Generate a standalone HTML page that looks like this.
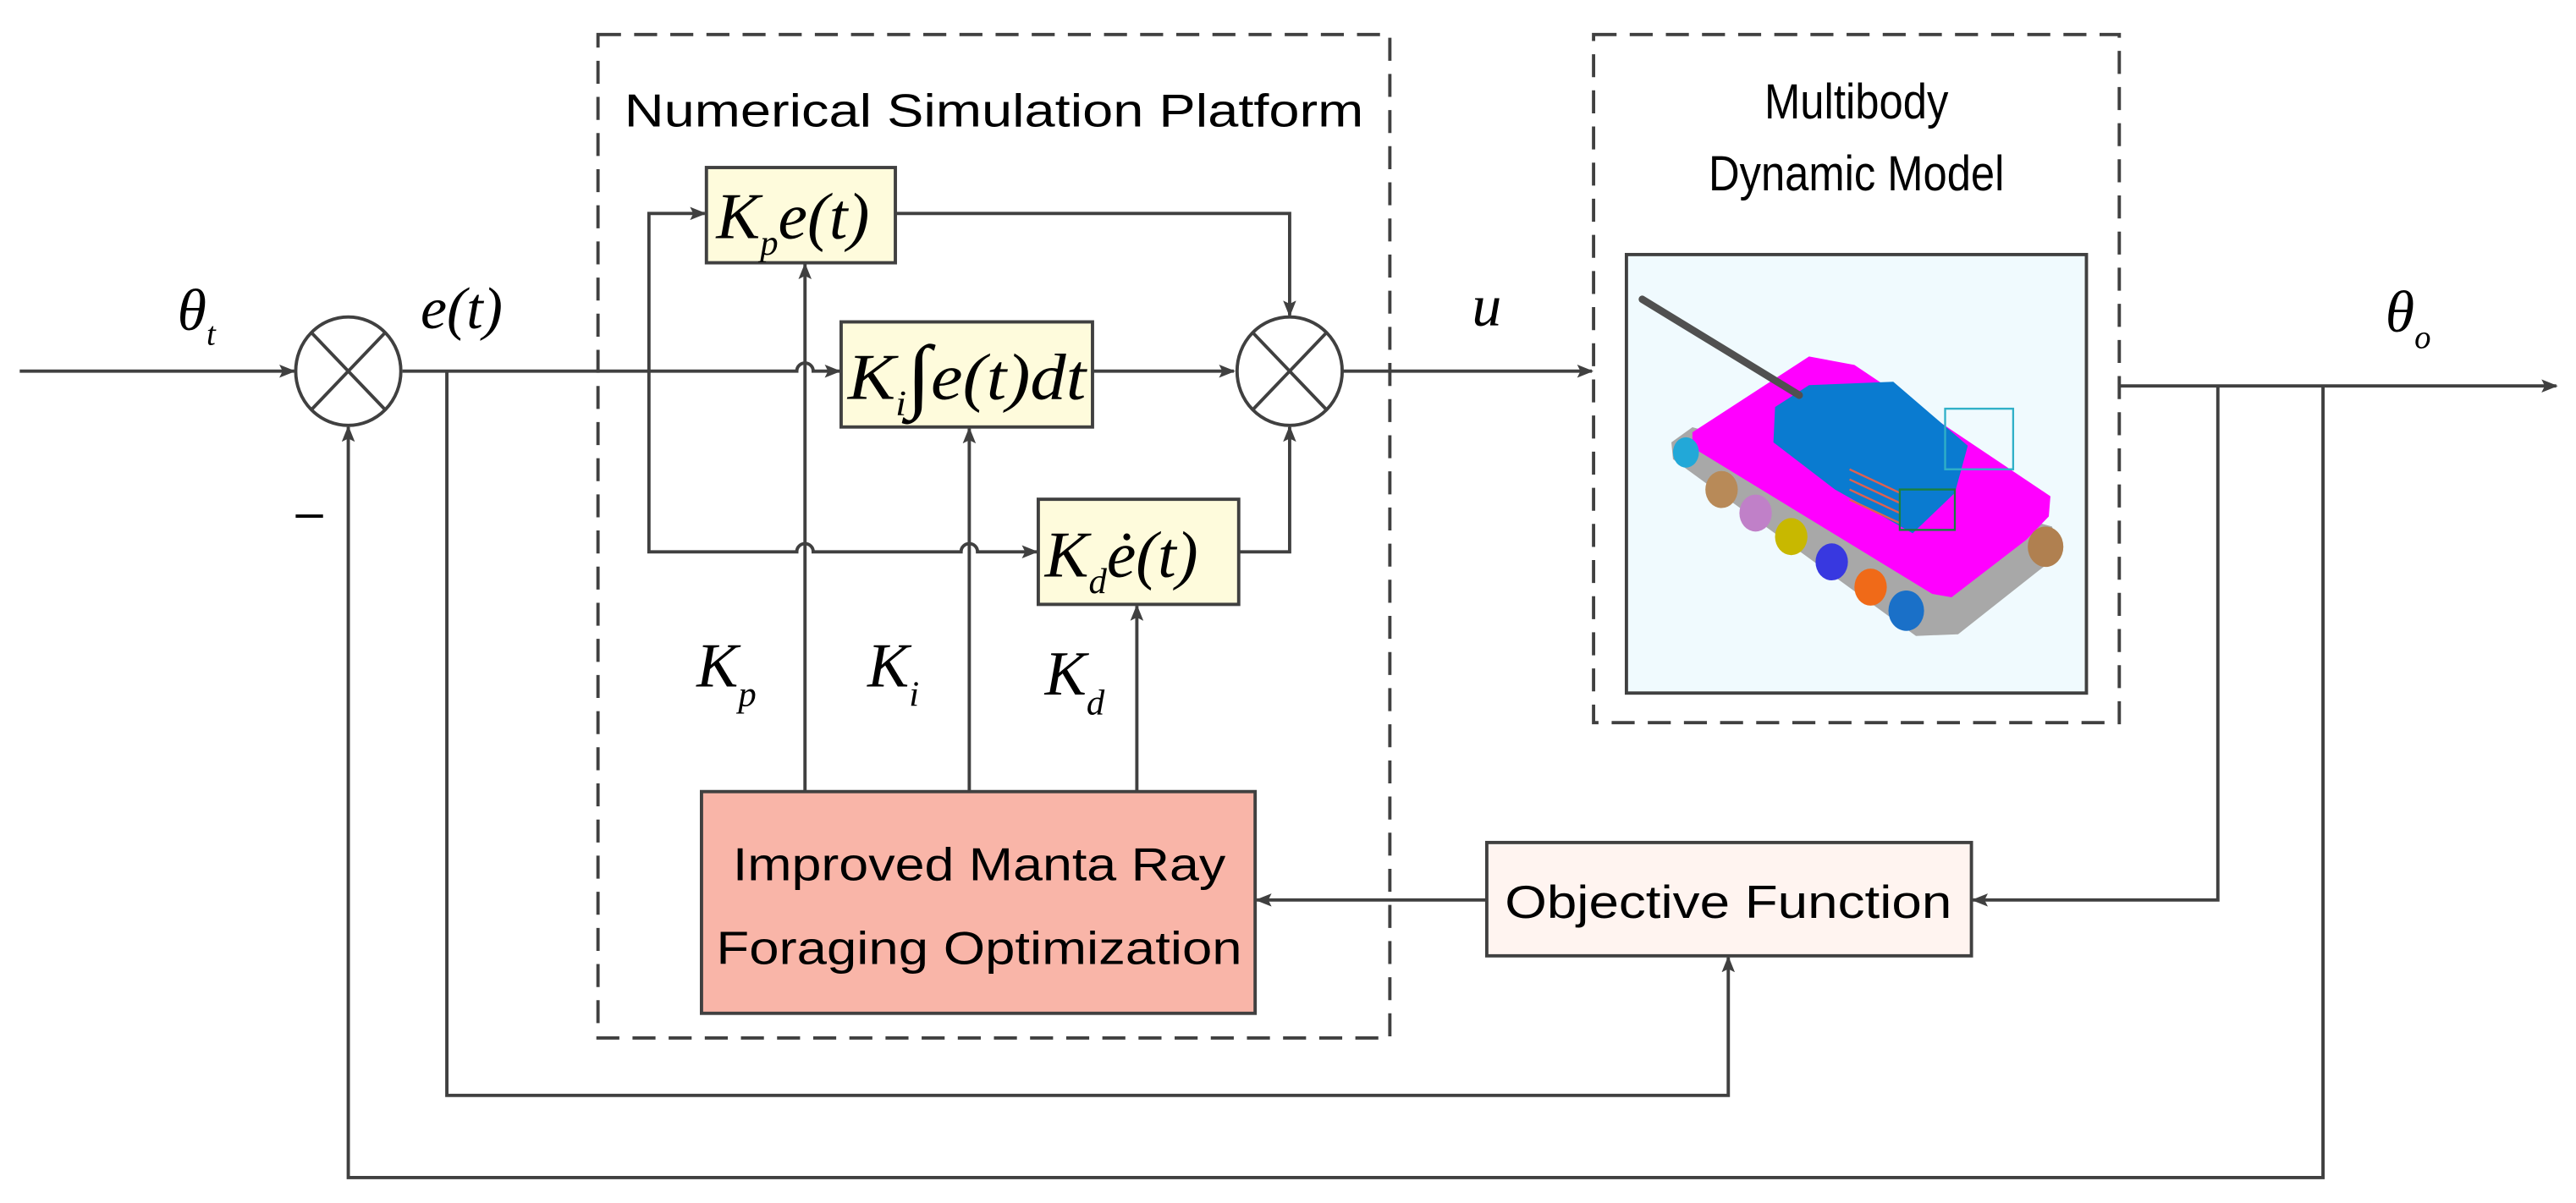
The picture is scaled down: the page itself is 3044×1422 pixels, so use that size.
<!DOCTYPE html>
<html><head><meta charset="utf-8"><style>html,body{margin:0;padding:0;background:#fff}svg{display:block}</style></head>
<body>
<svg width="3044" height="1422" viewBox="0 0 1568 732.5" preserveAspectRatio="none" xmlns="http://www.w3.org/2000/svg">
<defs>
<marker id="a" markerWidth="10" markerHeight="8" refX="9" refY="4" orient="auto" markerUnits="userSpaceOnUse"><path d="M0,0 L10,4 L0,8 L2,4 Z" fill="#404040"/></marker>
</defs>
<g fill="none" stroke="#404040" stroke-width="2">
<rect x="364" y="21" width="482" height="611" stroke-dasharray="14,8"/>
<rect x="970" y="21" width="320" height="419" stroke-dasharray="14,8"/>
<line x1="12" y1="226" x2="179" y2="226" marker-end="url(#a)"/>
<ellipse cx="212" cy="226" rx="32" ry="33" fill="#fff"/>
<line x1="190" y1="203" x2="234" y2="249"/><line x1="234" y1="203" x2="190" y2="249"/>
<path d="M245,226 H485 a5,5 0 0 1 10,0 H511" marker-end="url(#a)"/>
<path d="M395,226 V130 H429" marker-end="url(#a)"/>
<path d="M395,226 V336 H485 a5,5 0 0 1 10,0 H585 a5,5 0 0 1 10,0 H631" marker-end="url(#a)"/>
<rect x="430" y="102" width="115" height="58" fill="#fefbdc"/>
<rect x="512" y="196" width="153" height="64" fill="#fefbdc"/>
<rect x="632" y="304" width="122" height="64" fill="#fefbdc"/>
<path d="M545,130 H785 V192" marker-end="url(#a)"/>
<line x1="665" y1="226" x2="751" y2="226" marker-end="url(#a)"/>
<path d="M754,336 H785 V260" marker-end="url(#a)"/>
<ellipse cx="785" cy="226" rx="32" ry="33" fill="#fff"/>
<line x1="763" y1="203" x2="807" y2="249"/><line x1="807" y1="203" x2="763" y2="249"/>
<line x1="817" y1="226" x2="969" y2="226" marker-end="url(#a)"/>
<line x1="490" y1="482" x2="490" y2="161" marker-end="url(#a)"/>
<line x1="590" y1="482" x2="590" y2="261" marker-end="url(#a)"/>
<line x1="692" y1="482" x2="692" y2="369" marker-end="url(#a)"/>
<rect x="427" y="482" width="337" height="135" fill="#f9b5a8"/>
<rect x="905" y="513" width="295" height="69" fill="#fff4f0"/>
<line x1="905" y1="548" x2="765" y2="548" marker-end="url(#a)"/>
<path d="M1350,235 V548 H1201" marker-end="url(#a)"/>
<line x1="1290" y1="235" x2="1556" y2="235" marker-end="url(#a)"/>
<path d="M272,226 V667 H1052 V583" marker-end="url(#a)"/>
<path d="M1414,235 V717 H212 V260" marker-end="url(#a)"/>
<rect x="990" y="155" width="280" height="267" fill="#f0fafe"/>
</g>
<g transform="translate(978.9,144.3) scale(0.1972,0.205)">
<polygon points="195,610 260,565 1370,860 1400,940 1330,990 1080,1180 950,1185 200,660" fill="#a8a8a8"/>
<polygon points="260,580 620,355 760,380 1365,770 1360,830 1290,900 1060,1070 1000,1060 260,625" fill="#ff00ff"/>
<polygon points="515,505 620,440 880,430 1110,620 1070,760 940,880 700,750 510,610" fill="#0a7bd0"/>
<line x1="105" y1="185" x2="590" y2="470" stroke="#505050" stroke-width="22" stroke-linecap="round"/>
<ellipse cx="240" cy="640" rx="40" ry="45" fill="#22a8d8"/>
<ellipse cx="350" cy="750" rx="50" ry="55" fill="#b88a58"/>
<ellipse cx="455" cy="820" rx="50" ry="55" fill="#c080c8"/>
<ellipse cx="565" cy="890" rx="50" ry="55" fill="#c8b800"/>
<ellipse cx="690" cy="965" rx="50" ry="55" fill="#3838e0"/>
<ellipse cx="810" cy="1040" rx="50" ry="55" fill="#f06a18"/>
<ellipse cx="920" cy="1110" rx="55" ry="60" fill="#1a70c8"/>
<ellipse cx="1350" cy="920" rx="55" ry="60" fill="#b08050"/>
<g stroke="#e06050" stroke-width="6"><line x1="745" y1="690" x2="900" y2="760"/><line x1="745" y1="720" x2="900" y2="790"/><line x1="745" y1="750" x2="900" y2="820"/><line x1="745" y1="780" x2="900" y2="850"/></g>
<g stroke="#1a8040" stroke-width="6" fill="none"><rect x="900" y="750" width="170" height="120"/></g>
<g stroke="#30b0c8" stroke-width="6" fill="none"><rect x="1040" y="510" width="210" height="180"/></g>
</g>
<g font-family="Liberation Sans, sans-serif" fill="#000" font-size="28">
<text x="605" y="77" text-anchor="middle" textLength="450" lengthAdjust="spacingAndGlyphs">Numerical Simulation Platform</text>
<text x="1130" y="72" text-anchor="middle" font-size="30" textLength="112" lengthAdjust="spacingAndGlyphs">Multibody</text>
<text x="1130" y="116" text-anchor="middle" font-size="30" textLength="180" lengthAdjust="spacingAndGlyphs">Dynamic Model</text>
<text x="596" y="536" text-anchor="middle" textLength="300" lengthAdjust="spacingAndGlyphs">Improved Manta Ray</text>
<text x="596" y="587" text-anchor="middle" textLength="320" lengthAdjust="spacingAndGlyphs">Foraging Optimization</text>
<text x="1052" y="559" text-anchor="middle" textLength="272" lengthAdjust="spacingAndGlyphs">Objective Function</text>
</g>
<g font-family="Liberation Serif, serif" font-style="italic" fill="#000" font-size="36">
<text x="108" y="201">θ<tspan font-size="20" dy="9">t</tspan></text>
<text x="256" y="200">e(t)</text>
<text x="180" y="322" font-style="normal" font-size="30" font-family="Liberation Sans, sans-serif">–</text>
<text x="896" y="198">u</text>
<text x="1452" y="202">θ<tspan font-size="20" dy="10">o</tspan></text>
<text x="436" y="145" font-size="40">K<tspan font-size="22" dy="10">p</tspan><tspan dy="-10">e(t)</tspan></text>
<text x="516" y="243" font-size="40" textLength="145" lengthAdjust="spacingAndGlyphs">K<tspan font-size="22" dy="10">i</tspan><tspan dy="-8" font-style="normal" font-size="50">∫</tspan><tspan dy="-2">e(t)dt</tspan></text>
<text x="636" y="351" font-size="40">K<tspan font-size="22" dy="10">d</tspan><tspan dy="-10">ė(t)</tspan></text>
<text x="424" y="418" font-size="38">K<tspan font-size="22" dy="12">p</tspan></text>
<text x="528" y="418" font-size="38">K<tspan font-size="22" dy="12">i</tspan></text>
<text x="636" y="423" font-size="38">K<tspan font-size="22" dy="12">d</tspan></text>
</g>
</svg>
</body></html>
